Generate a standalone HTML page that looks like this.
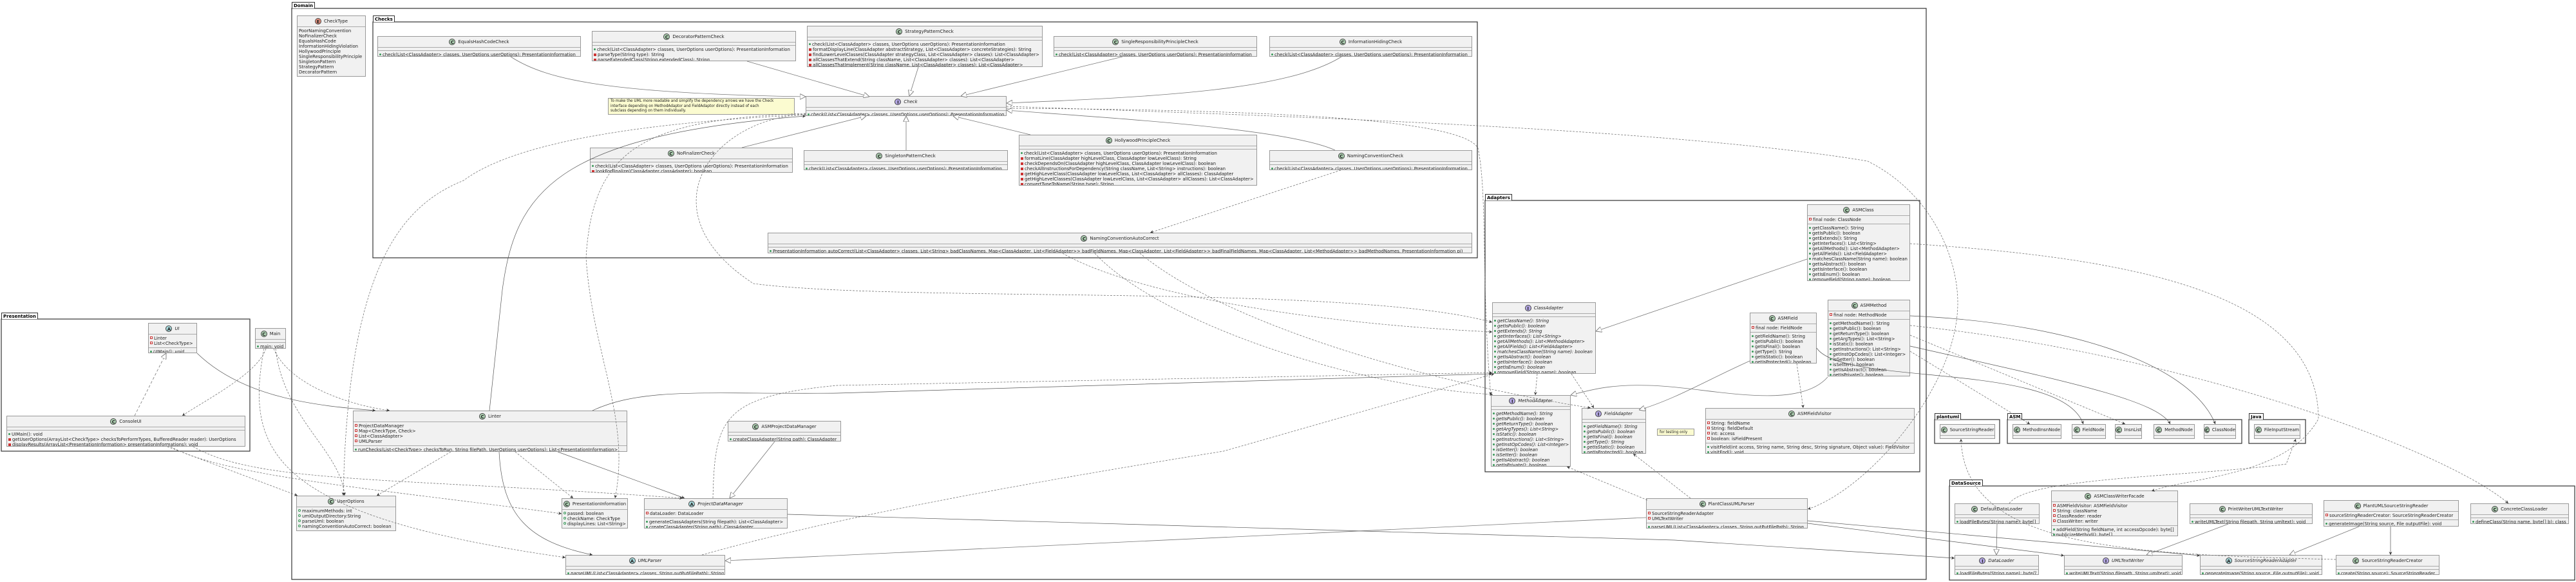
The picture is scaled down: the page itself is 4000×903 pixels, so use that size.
<!DOCTYPE html>
<html><head><meta charset="utf-8"><style>
body{margin:0;width:4000px;height:903px;background:#fff;position:relative;overflow:hidden;font-family:"DejaVu Sans","Liberation Sans",sans-serif}
svg{position:absolute;left:0;top:0}
.b{position:absolute;background:#f1f1f1;border:1px solid #999;font-size:6.9px;color:#222;overflow:hidden;box-sizing:border-box;z-index:1}
.h{height:17px;display:flex;align-items:center;justify-content:center;border-bottom:1px solid #aaa;box-sizing:border-box;white-space:nowrap}
.s{border-bottom:1px solid #aaa;padding:2px 2px;min-height:4px;box-sizing:border-box}
.s:last-child{border-bottom:none}
.r{line-height:8px;height:8px;white-space:nowrap}
.it{font-style:italic}
.ic{display:inline-block;width:10px;height:10px;border-radius:50%;border:1px solid #444;font-size:7px;line-height:10px;text-align:center;font-weight:bold;margin-right:4px;font-style:normal;box-sizing:border-box}
.C{background:#ADD1B2}.I{background:#B4A7E5}.A{background:#A9DCDF}.E{background:#EB937F}
.g{display:inline-block;width:3px;height:3px;border-radius:50%;background:#3a9a5a;margin-right:2px;vertical-align:1px}
.o{display:inline-block;width:2px;height:2px;border-radius:50%;border:1px solid #3a9a5a;margin-right:2px;vertical-align:1px}
.q{display:inline-block;width:2px;height:2px;border:1px solid #c33;margin-right:2px;vertical-align:1px}
.qf{display:inline-block;width:4px;height:4px;background:#c33;margin-right:2px;vertical-align:0px}
.n{position:absolute;background:#fbfbd0;border:1px solid #999;font-size:5.7px;line-height:7.5px;padding:1px 3px;box-sizing:border-box;z-index:1;color:#222}
.t{position:absolute;font-size:7px;font-weight:bold;border:1px solid #333;border-bottom:none;padding:0 2px;height:10px;line-height:10px;box-sizing:border-box;background:#fff;z-index:1}
</style></head><body>

<svg width="4000" height="903" style="z-index:0">
<g fill="none" stroke="#333" stroke-width="1.2">
<rect x="453" y="13" width="2538" height="886"/>
<rect x="579" y="34" width="1715" height="366"/>
<rect x="2306" y="311" width="675" height="421"/>
<rect x="2" y="495" width="386" height="205"/>
<rect x="3004" y="651" width="101" height="37"/>
<rect x="3117" y="651" width="364" height="37"/>
<rect x="3492" y="651" width="88" height="37"/>
<rect x="3027" y="754" width="971" height="146"/>
</g>
</svg>
<div class="t" style="left:453px;top:3px">Domain</div>
<div class="t" style="left:579px;top:24px">Checks</div>
<div class="t" style="left:2306px;top:301px">Adapters</div>
<div class="t" style="left:2px;top:485px">Presentation</div>
<div class="t" style="left:3004px;top:641px">plantuml</div>
<div class="t" style="left:3117px;top:641px">ASM</div>
<div class="t" style="left:3492px;top:641px">Java</div>
<div class="t" style="left:3027px;top:744px">DataSource</div>

<!-- Domain -->
<div class="b" style="left:461px;top:24px;width:107px;height:95px"><div class="h"><span class="ic E">E</span>CheckType</div><div class="s"><div class="r">PoorNamingConvention</div><div class="r">NoFinalizerCheck</div><div class="r">EqualsHashCode</div><div class="r">InformationHidingViolation</div><div class="r">HollywoodPrinciple</div><div class="r">SingleResponsibilityPrinciple</div><div class="r">SingletonPattern</div><div class="r">StrategyPattern</div><div class="r">DecoratorPattern</div></div><div class="s"></div></div>

<div class="b" style="left:586px;top:56px;width:316px;height:32px"><div class="h"><span class="ic C">C</span>EqualsHashCodeCheck</div><div class="s"></div><div class="s"><div class="r"><i class="g"></i>check(List&lt;ClassAdapter&gt; classes, UserOptions userOptions): PresentationInformation</div></div></div>

<div class="b" style="left:919px;top:48px;width:317px;height:47px"><div class="h"><span class="ic C">C</span>DecoratorPatternCheck</div><div class="s"></div><div class="s"><div class="r"><i class="g"></i>check(List&lt;ClassAdapter&gt; classes, UserOptions userOptions): PresentationInformation</div><div class="r"><i class="qf"></i>parseType(String type): String</div><div class="r"><i class="qf"></i>parseExtendedClass(String extendedClass): String</div></div></div>

<div class="b" style="left:1253px;top:40px;width:366px;height:64px"><div class="h"><span class="ic C">C</span>StrategyPatternCheck</div><div class="s"></div><div class="s"><div class="r"><i class="g"></i>check(List&lt;ClassAdapter&gt; classes, UserOptions userOptions): PresentationInformation</div><div class="r"><i class="qf"></i>formatDisplayLine(ClassAdapter abstractStrategy, List&lt;ClassAdapter&gt; concreteStrategies): String</div><div class="r"><i class="qf"></i>findLowerLevelClasses(ClassAdapter strategyClass, List&lt;ClassAdapter&gt; classes): List&lt;ClassAdapter&gt;</div><div class="r"><i class="qf"></i>allClassesThatExtend(String className, List&lt;ClassAdapter&gt; classes): List&lt;ClassAdapter&gt;</div><div class="r"><i class="qf"></i>allClassesThatImplement(String className, List&lt;ClassAdapter&gt; classes): List&lt;ClassAdapter&gt;</div></div></div>

<div class="b" style="left:1636px;top:56px;width:316px;height:32px"><div class="h"><span class="ic C">C</span>SingleResponsibilityPrincipleCheck</div><div class="s"></div><div class="s"><div class="r"><i class="g"></i>check(List&lt;ClassAdapter&gt; classes, UserOptions userOptions): PresentationInformation</div></div></div>

<div class="b" style="left:1971px;top:56px;width:315px;height:32px"><div class="h"><span class="ic C">C</span>InformationHidingCheck</div><div class="s"></div><div class="s"><div class="r"><i class="g"></i>check(List&lt;ClassAdapter&gt; classes, UserOptions userOptions): PresentationInformation</div></div></div>

<div class="b" style="left:1251px;top:149px;width:312px;height:31px"><div class="h it"><span class="ic I">I</span>Check</div><div class="s"></div><div class="s"><div class="r it"><i class="g"></i>check(List&lt;ClassAdapter&gt; classes, UserOptions userOptions): PresentationInformation</div></div></div>

<div class="n" style="left:944px;top:152px;width:290px;height:26px">To make the UML more readable and simplify the dependency arrows we have the Check<br>interface depending on MethodAdaptor and FieldAdaptor directly instead of each<br>subclass depending on them individually.</div>

<div class="b" style="left:916px;top:229px;width:315px;height:39px"><div class="h"><span class="ic C">C</span>NoFinalizerCheck</div><div class="s"></div><div class="s"><div class="r"><i class="g"></i>check(List&lt;ClassAdapter&gt; classes, UserOptions userOptions): PresentationInformation</div><div class="r"><i class="qf"></i>lookForFinalize(ClassAdapter classAdapter): boolean</div></div></div>

<div class="b" style="left:1248px;top:233px;width:317px;height:31px"><div class="h"><span class="ic C">C</span>SingletonPatternCheck</div><div class="s"></div><div class="s"><div class="r"><i class="g"></i>check(List&lt;ClassAdapter&gt; classes, UserOptions userOptions): PresentationInformation</div></div></div>

<div class="b" style="left:1582px;top:209px;width:370px;height:79px"><div class="h"><span class="ic C">C</span>HollywoodPrincipleCheck</div><div class="s"></div><div class="s"><div class="r"><i class="g"></i>check(List&lt;ClassAdapter&gt; classes, UserOptions userOptions): PresentationInformation</div><div class="r"><i class="qf"></i>formatLine(ClassAdapter highLevelClass, ClassAdapter lowLevelClass): String</div><div class="r"><i class="qf"></i>checkDependsOn(ClassAdapter highLevelClass, ClassAdapter lowLevelClass): boolean</div><div class="r"><i class="qf"></i>checkAllInstructionsForDependency(String className, List&lt;String&gt; instructions): boolean</div><div class="r"><i class="qf"></i>getHighLevelClass(ClassAdapter lowLevelClass, List&lt;ClassAdapter&gt; allClasses): ClassAdapter</div><div class="r"><i class="qf"></i>getHighLevelClasses(ClassAdapter lowLevelClass, List&lt;ClassAdapter&gt; allClasses): List&lt;ClassAdapter&gt;</div><div class="r"><i class="qf"></i>convertTypeToName(String type): String</div></div></div>

<div class="b" style="left:1971px;top:233px;width:315px;height:31px"><div class="h"><span class="ic C">C</span>NamingConventionCheck</div><div class="s"></div><div class="s"><div class="r"><i class="g"></i>check(List&lt;ClassAdapter&gt; classes, UserOptions userOptions): PresentationInformation</div></div></div>

<div class="b" style="left:1192px;top:361px;width:1094px;height:32px"><div class="h"><span class="ic C">C</span>NamingConventionAutoCorrect</div><div class="s"></div><div class="s"><div class="r"><i class="g"></i>PresentationInformation autoCorrect(List&lt;ClassAdapter&gt; classes, List&lt;String&gt; badClassNames, Map&lt;ClassAdapter, List&lt;FieldAdapter&gt;&gt; badFieldNames, Map&lt;ClassAdapter, List&lt;FieldAdapter&gt;&gt; badFinalFieldNames, Map&lt;ClassAdapter, List&lt;MethodAdapter&gt;&gt; badMethodNames, PresentationInformation pi)</div></div></div>

<!-- Adapters -->
<div class="b" style="left:2806px;top:317px;width:160px;height:119px"><div class="h"><span class="ic C">C</span>ASMClass</div><div class="s"><div class="r"><i class="q"></i>final node: ClassNode</div></div><div class="s"><div class="r"><i class="g"></i>getClassName(): String</div><div class="r"><i class="g"></i>getIsPublic(): boolean</div><div class="r"><i class="g"></i>getExtends(): String</div><div class="r"><i class="g"></i>getInterfaces(): List&lt;String&gt;</div><div class="r"><i class="g"></i>getAllMethods(): List&lt;MethodAdapter&gt;</div><div class="r"><i class="g"></i>getAllFields(): List&lt;FieldAdapter&gt;</div><div class="r"><i class="g"></i>matchesClassName(String name): boolean</div><div class="r"><i class="g"></i>getIsAbstract(): boolean</div><div class="r"><i class="g"></i>getIsInterface(): boolean</div><div class="r"><i class="g"></i>getIsEnum(): boolean</div><div class="r"><i class="g"></i>removeField(String name): boolean</div></div></div>

<div class="b it" style="left:2317px;top:469px;width:161px;height:111px"><div class="h"><span class="ic I">I</span>ClassAdapter</div><div class="s"></div><div class="s"><div class="r"><i class="g"></i>getClassName(): String</div><div class="r"><i class="g"></i>getIsPublic(): boolean</div><div class="r"><i class="g"></i>getExtends(): String</div><div class="r"><i class="g"></i>getInterfaces(): List&lt;String&gt;</div><div class="r"><i class="g"></i>getAllMethods(): List&lt;MethodAdapter&gt;</div><div class="r"><i class="g"></i>getAllFields(): List&lt;FieldAdapter&gt;</div><div class="r"><i class="g"></i>matchesClassName(String name): boolean</div><div class="r"><i class="g"></i>getIsAbstract(): boolean</div><div class="r"><i class="g"></i>getIsInterface(): boolean</div><div class="r"><i class="g"></i>getIsEnum(): boolean</div><div class="r"><i class="g"></i>removeField(String name): boolean</div></div></div>

<div class="b it" style="left:2315px;top:613px;width:124px;height:111px"><div class="h"><span class="ic I">I</span>MethodAdapter</div><div class="s"></div><div class="s"><div class="r"><i class="g"></i>getMethodName(): String</div><div class="r"><i class="g"></i>getIsPublic(): boolean</div><div class="r"><i class="g"></i>getReturnType(): boolean</div><div class="r"><i class="g"></i>getArgTypes(): List&lt;String&gt;</div><div class="r"><i class="g"></i>isStatic(): boolean</div><div class="r"><i class="g"></i>getInstructions(): List&lt;String&gt;</div><div class="r"><i class="g"></i>getInstOpCodes(): List&lt;Integer&gt;</div><div class="r"><i class="g"></i>isGetter(): boolean</div><div class="r"><i class="g"></i>isSetter(): boolean</div><div class="r"><i class="g"></i>getIsAbstract(): boolean</div><div class="r"><i class="g"></i>getIsPrivate(): boolean</div></div></div>

<div class="b it" style="left:2456px;top:633px;width:100px;height:71px"><div class="h"><span class="ic I">I</span>FieldAdapter</div><div class="s"></div><div class="s"><div class="r"><i class="g"></i>getFieldName(): String</div><div class="r"><i class="g"></i>getIsPublic(): boolean</div><div class="r"><i class="g"></i>getIsFinal(): boolean</div><div class="r"><i class="g"></i>getType(): String</div><div class="r"><i class="g"></i>getIsStatic(): boolean</div><div class="r"><i class="g"></i>getIsProtected(): boolean</div></div></div>

<div class="n" style="left:2573px;top:665px;width:58px;height:11px;line-height:8px">for testing only</div>

<div class="b" style="left:2648px;top:633px;width:325px;height:71px"><div class="h"><span class="ic C">C</span>ASMFieldVisitor</div><div class="s"><div class="r"><i class="q"></i>String: fieldName</div><div class="r"><i class="q"></i>String: fieldDefault</div><div class="r"><i class="q"></i>int: access</div><div class="r"><i class="q"></i>boolean: isFieldPresent</div></div><div class="s"><div class="r"><i class="g"></i>visitField(int access, String name, String desc, String signature, Object value): FieldVisitor</div><div class="r"><i class="g"></i>visitEnd(): void</div></div></div>

<div class="b" style="left:2717px;top:485px;width:104px;height:79px"><div class="h"><span class="ic C">C</span>ASMField</div><div class="s"><div class="r"><i class="q"></i>final node: FieldNode</div></div><div class="s"><div class="r"><i class="g"></i>getFieldName(): String</div><div class="r"><i class="g"></i>getIsPublic(): boolean</div><div class="r"><i class="g"></i>getIsFinal(): boolean</div><div class="r"><i class="g"></i>getType(): String</div><div class="r"><i class="g"></i>getIsStatic(): boolean</div><div class="r"><i class="g"></i>getIsProtected(): boolean</div></div></div>

<div class="b" style="left:2838px;top:465px;width:128px;height:119px"><div class="h"><span class="ic C">C</span>ASMMethod</div><div class="s"><div class="r"><i class="q"></i>final node: MethodNode</div></div><div class="s"><div class="r"><i class="g"></i>getMethodName(): String</div><div class="r"><i class="g"></i>getIsPublic(): boolean</div><div class="r"><i class="g"></i>getReturnType(): boolean</div><div class="r"><i class="g"></i>getArgTypes(): List&lt;String&gt;</div><div class="r"><i class="g"></i>isStatic(): boolean</div><div class="r"><i class="g"></i>getInstructions(): List&lt;String&gt;</div><div class="r"><i class="g"></i>getInstOpCodes(): List&lt;Integer&gt;</div><div class="r"><i class="g"></i>isGetter(): boolean</div><div class="r"><i class="g"></i>isSetter(): boolean</div><div class="r"><i class="g"></i>getIsAbstract(): boolean</div><div class="r"><i class="g"></i>getIsPrivate(): boolean</div></div></div>

<div class="b" style="left:2556px;top:773px;width:251px;height:47px"><div class="h"><span class="ic C">C</span>PlantClassUMLParser</div><div class="s"><div class="r"><i class="q"></i>SourceStringReaderAdapter</div><div class="r"><i class="q"></i>UMLTextWriter</div></div><div class="s"><div class="r"><i class="g"></i>parseUML(List&lt;ClassAdapter&gt; classes, String outPutFilePath): String</div></div></div>

<!-- Presentation -->
<div class="b" style="left:230px;top:501px;width:76px;height:47px"><div class="h it"><span class="ic A">A</span>UI</div><div class="s"><div class="r"><i class="q"></i>Linter</div><div class="r"><i class="q"></i>List&lt;CheckType&gt;</div></div><div class="s"><div class="r it"><i class="g"></i>UIMain(): void</div></div></div>

<div class="b" style="left:10px;top:645px;width:371px;height:48px"><div class="h"><span class="ic C">C</span>ConsoleUI</div><div class="s"></div><div class="s"><div class="r"><i class="g"></i>UIMain(): void</div><div class="r"><i class="qf"></i>getUserOptions(ArrayList&lt;CheckType&gt; checksToPerformTypes, BufferedReader reader): UserOptions</div><div class="r"><i class="qf"></i>displayResults(ArrayList&lt;PresentationInformation&gt; presentationInformations): void</div></div></div>

<div class="b" style="left:396px;top:509px;width:48px;height:32px"><div class="h"><span class="ic C">C</span>Main</div><div class="s"></div><div class="s"><div class="r"><i class="g"></i>main: void</div></div></div>

<!-- Domain core -->
<div class="b" style="left:548px;top:637px;width:426px;height:64px"><div class="h"><span class="ic C">C</span>Linter</div><div class="s"><div class="r"><i class="q"></i>ProjectDataManager</div><div class="r"><i class="q"></i>Map&lt;CheckType, Check&gt;</div><div class="r"><i class="q"></i>List&lt;ClassAdapter&gt;</div><div class="r"><i class="q"></i>UMLParser</div></div><div class="s"><div class="r"><i class="g"></i>runChecks(List&lt;CheckType&gt; checksToRun, String filePath, UserOptions userOptions): List&lt;PresentationInformation&gt;</div></div></div>

<div class="b" style="left:1130px;top:653px;width:176px;height:32px"><div class="h"><span class="ic C">C</span>ASMProjectDataManager</div><div class="s"></div><div class="s"><div class="r"><i class="g"></i>createClassAdapter(String path): ClassAdapter</div></div></div>

<div class="b" style="left:460px;top:769px;width:155px;height:55px"><div class="h"><span class="ic C">C</span>UserOptions</div><div class="s"><div class="r"><i class="o"></i>maximumMethods: int</div><div class="r"><i class="o"></i>umlOutputDirectory:String</div><div class="r"><i class="o"></i>parseUml: boolean</div><div class="r"><i class="o"></i>namingConventionAutoCorrect: boolean</div></div><div class="s"></div></div>

<div class="b" style="left:872px;top:773px;width:103px;height:47px"><div class="h"><span class="ic C">C</span>PresentationInformation</div><div class="s"><div class="r"><i class="o"></i>passed: boolean</div><div class="r"><i class="o"></i>checkName: CheckType</div><div class="r"><i class="o"></i>displayLines: List&lt;String&gt;</div></div><div class="s"></div></div>

<div class="b" style="left:1000px;top:773px;width:223px;height:47px"><div class="h it"><span class="ic A">A</span>ProjectDataManager</div><div class="s"><div class="r"><i class="q"></i>dataLoader: DataLoader</div></div><div class="s"><div class="r"><i class="g"></i>generateClassAdapters(String filepath): List&lt;ClassAdapter&gt;</div><div class="r it"><i class="g"></i>createClassAdapter(String path): ClassAdapter</div></div></div>

<div class="b" style="left:878px;top:861px;width:248px;height:31px"><div class="h it"><span class="ic A">A</span>UMLParser</div><div class="s"></div><div class="s"><div class="r it"><i class="g"></i>parseUML(List&lt;ClassAdapter&gt; classes, String outPutFilePath): String</div></div></div>

<!-- external libs -->
<div class="b" style="left:3012px;top:658px;width:86px;height:23px"><div class="h"><span class="ic C">C</span>SourceStringReader</div><div class="s"></div><div class="s"></div></div>
<div class="b" style="left:3125px;top:658px;width:76px;height:23px"><div class="h"><span class="ic C">C</span>MethodInsnNode</div><div class="s"></div><div class="s"></div></div>
<div class="b" style="left:3217px;top:658px;width:53px;height:23px"><div class="h"><span class="ic C">C</span>FieldNode</div><div class="s"></div><div class="s"></div></div>
<div class="b" style="left:3284px;top:658px;width:42px;height:23px"><div class="h"><span class="ic C">C</span>InsnList</div><div class="s"></div><div class="s"></div></div>
<div class="b" style="left:3344px;top:658px;width:64px;height:23px"><div class="h"><span class="ic C">C</span>MethodNode</div><div class="s"></div><div class="s"></div></div>
<div class="b" style="left:3422px;top:658px;width:50px;height:23px"><div class="h"><span class="ic C">C</span>ClassNode</div><div class="s"></div><div class="s"></div></div>
<div class="b" style="left:3500px;top:658px;width:72px;height:23px"><div class="h"><span class="ic C">C</span>FileInputStream</div><div class="s"></div><div class="s"></div></div>

<!-- DataSource -->
<div class="b" style="left:3035px;top:781px;width:132px;height:32px"><div class="h"><span class="ic C">C</span>DefaultDataLoader</div><div class="s"></div><div class="s"><div class="r"><i class="g"></i>loadFileBytes(String name): byte[]</div></div></div>
<div class="b" style="left:3185px;top:761px;width:197px;height:71px"><div class="h"><span class="ic C">C</span>ASMClassWriterFacade</div><div class="s"><div class="r"><i class="q"></i>ASMFieldVisitor: ASMFieldVisitor</div><div class="r"><i class="q"></i>String: className</div><div class="r"><i class="q"></i>ClassReader: reader</div><div class="r"><i class="q"></i>ClassWriter: writer</div></div><div class="s"><div class="r"><i class="g"></i>addField(String fieldName, int accessOpcode): byte[]</div><div class="r"><i class="g"></i>publicizeMethod(): byte[]</div></div></div>
<div class="b" style="left:3400px;top:781px;width:191px;height:32px"><div class="h"><span class="ic C">C</span>PrintWriterUMLTextWriter</div><div class="s"></div><div class="s"><div class="r"><i class="g"></i>writeUMLText(String filepath, String umltext): void</div></div></div>
<div class="b" style="left:3608px;top:776px;width:210px;height:41px"><div class="h"><span class="ic C">C</span>PlantUMLSourceStringReader</div><div class="s"><div class="r"><i class="q"></i>sourceStringReaderCreator: SourceStringReaderCreator</div></div><div class="s"><div class="r"><i class="g"></i>generateImage(String source, File outputFile): void</div></div></div>
<div class="b" style="left:3836px;top:781px;width:153px;height:32px"><div class="h"><span class="ic C">C</span>ConcreteClassLoader</div><div class="s"></div><div class="s"><div class="r"><i class="g"></i>defineClass(String name, byte[] b): class</div></div></div>
<div class="b" style="left:3035px;top:861px;width:131px;height:31px"><div class="h it"><span class="ic I">I</span>DataLoader</div><div class="s"></div><div class="s"><div class="r it"><i class="g"></i>loadFileBytes(String name): byte[]</div></div></div>
<div class="b" style="left:3205px;top:861px;width:184px;height:31px"><div class="h it"><span class="ic I">I</span>UMLTextWriter</div><div class="s"></div><div class="s"><div class="r it"><i class="g"></i>writeUMLText(String filepath, String umltext): void</div></div></div>
<div class="b" style="left:3416px;top:861px;width:190px;height:31px"><div class="h it"><span class="ic A">A</span>SourceStringReaderAdapter</div><div class="s"></div><div class="s"><div class="r it"><i class="g"></i>generateImage(String source, File outputFile): void</div></div></div>
<div class="b" style="left:3627px;top:861px;width:161px;height:31px"><div class="h"><span class="ic C">C</span>SourceStringReaderCreator</div><div class="s"></div><div class="s"><div class="r"><i class="g"></i>create(String source): SourceStringReader</div></div></div>

<svg width="4000" height="903" style="z-index:2;pointer-events:none">
<defs>
<marker id="tri" viewBox="0 0 10 10" refX="10" refY="5" markerWidth="9" markerHeight="9" orient="auto" markerUnits="userSpaceOnUse"><path d="M0,0 L10,5 L0,10 z" fill="#fff" stroke="#777"/></marker>
<marker id="arr" viewBox="0 0 10 10" refX="10" refY="5" markerWidth="5" markerHeight="5" orient="auto" markerUnits="userSpaceOnUse"><path d="M0,0 L10,5 L0,10 L3,5 z" fill="#333"/></marker>
</defs>
<g fill="none" stroke="#777" stroke-width="0.8" marker-end="url(#tri)">
<path d="M793,88 C850,125 950,145 1251,150"/>
<path d="M1160,95 L1350,150"/>
<path d="M1426,104 L1412,149"/>
<path d="M1743,88 L1492,149"/>
<path d="M2083,88 C2000,140 1800,150 1563,160"/>
<path d="M1152,229 L1345,180"/>
<path d="M1407,233 L1407,180"/>
<path d="M1600,209 L1480,180"/>
<path d="M2073,233 C2000,200 1750,185 1563,171"/>
<path d="M1203,685 L1133,773"/>
<path d="M2556,803 L1126,870"/>
<path d="M2806,402 L2478,514"/>
<path d="M2717,560 C2650,590 2600,620 2545,636"/>
<path d="M2838,585 C2790,640 2650,600 2560,598 C2500,596 2470,605 2439,613"/>
<path d="M3101,813 L3100,861"/>
<path d="M3460,813 L3333,861"/>
<path d="M3663,817 L3555,861"/>
</g>
<g fill="none" stroke="#777" stroke-width="0.8" stroke-dasharray="4,3" marker-end="url(#tri)">
<path d="M209,645 L258,548"/>
</g>
<g fill="none" stroke="#555" stroke-width="0.7" marker-end="url(#arr)">
<path d="M306,548 C380,620 500,630 583,637"/>
<path d="M775,701 C780,800 820,840 920,861"/>
<path d="M866,701 L1063,773"/>
<path d="M920,637 C1000,600 1100,612 1300,610 L2317,580"/>
<path d="M760,637 L780,450 C800,300 860,210 1251,180"/>
<path d="M1223,798 L2600,838 L3035,866"/>
<path d="M2807,812 L3205,862"/>
<path d="M2807,808 L3416,862"/>
<path d="M3712,817 L3712,861"/>
<path d="M2966,537 C3200,590 3350,620 3370,658"/>
<path d="M2821,540 C2860,600 3200,560 3235,658"/>
<path d="M2966,490 C3200,500 3400,560 3440,658"/>
</g>
<g fill="none" stroke="#666" stroke-width="0.7" stroke-dasharray="3,2" marker-end="url(#arr)">
<path d="M2082,264 L1786,361"/>
<path d="M413,541 C400,580 320,620 283,645"/>
<path d="M425,541 C450,600 550,630 605,637"/>
<path d="M428,541 C440,650 530,700 535,769"/>
<path d="M410,541 C380,700 420,800 878,865"/>
<path d="M260,693 L462,769"/>
<path d="M300,693 C400,750 600,740 1060,773"/>
<path d="M265,693 C350,740 600,760 872,797"/>
<path d="M700,701 L585,769"/>
<path d="M800,701 L890,773"/>
<path d="M1251,178 C1000,190 800,220 720,280 C620,320 540,420 533,769"/>
<path d="M1251,176 C1000,185 920,230 910,400 C920,550 980,650 955,773"/>
<path d="M1251,177 C1100,185 1000,330 1170,440 C1400,470 2100,440 2317,500"/>
<path d="M1107,773 C1110,650 1120,615 1300,598 L2317,578"/>
<path d="M1090,861 C1200,830 1400,780 1900,700 L2320,580"/>
<path d="M1650,393 C1750,450 2000,500 2317,515"/>
<path d="M1700,393 C1800,500 2100,600 2318,612"/>
<path d="M1770,393 C1900,500 2200,590 2470,633"/>
<path d="M1563,165 C2000,180 2600,200 2900,250 C3000,300 3040,400 3040,470 C3040,600 2900,760 2807,790"/>
<path d="M1563,168 C1900,170 2270,180 2295,230 C2310,300 2300,450 2315,613"/>
<path d="M2558,776 L2433,724"/>
<path d="M2625,773 L2536,704"/>
<path d="M2387,580 L2384,613"/>
<path d="M2440,580 L2475,633"/>
<path d="M2790,564 L2800,633"/>
<path d="M2966,545 L3152,658"/>
<path d="M2966,520 L3300,658"/>
<path d="M2966,505 C3400,550 3800,700 3895,781"/>
<path d="M2966,378 C3300,400 3600,450 3600,650 C3550,740 3400,740 3341,762"/>
<path d="M3627,868 C3300,860 3050,850 3045,681"/>
<path d="M3120,781 C3150,740 3400,740 3550,720 L3565,681"/>
</g>
</svg>
</body></html>
